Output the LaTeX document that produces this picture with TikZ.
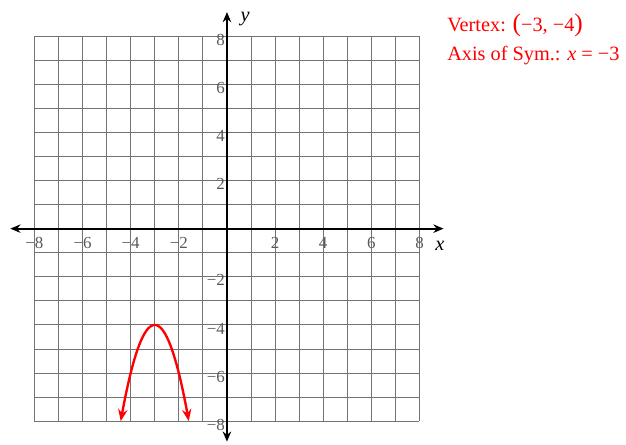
\documentclass[tikz,border=0pt]{standalone}
\usepackage{fontspec}
\setmainfont{Liberation Serif}
\usetikzlibrary{arrows.meta}
\begin{document}
\begin{tikzpicture}[x=0.5cm,y=0.5cm,>={Stealth[length=6pt,width=5pt]}]
\useasboundingbox (-9.43,-8.96) rectangle (16.58,9.5);
\tikzset{ticklabel/.style={text=black!65,font=\fontsize{10}{12}\selectfont,inner sep=1pt}}
% grid
\foreach \k in {-8,...,8} {
  \draw[black!55,line width=0.55pt] (\k,-8) -- (\k,8);
  \draw[black!55,line width=0.55pt] (-8,\k) -- (8,\k);
}
\draw[<->,line width=1.2pt] (-9,0) -- (9,0);
\draw[<->,line width=1.2pt] (0,-8.85) -- (0,9);

\foreach \n in {2,4,6,8} {
  \node[ticklabel] (xp\n) at (\n,-0.58) {\n};
  \node[ticklabel] (xm\n) at (-\n,-0.58) {−\n};
  \node[ticklabel,anchor=east] (yp\n) at (0,\n-0.15) {\n};
  \node[ticklabel,anchor=east] (ym\n) at (0,-\n-0.15) {−\n};
}
\node[font=\fontsize{12}{14}\selectfont\itshape] (xlab) at (8.85,-0.7) {x};
\node[font=\fontsize{12}{14}\selectfont\itshape] (ylab) at (0.75,8.7) {y};

\draw[red,{Stealth[length=7pt,width=5.5pt]}-{Stealth[length=7pt,width=5.5pt]},line width=1.4pt,domain={-3-sqrt(2)}:{-3+sqrt(2)},samples=60]
  plot (\x,{-2*(\x+3)^2-4});

\node[red,anchor=west,inner sep=0pt,font=\fontsize{12}{14}\selectfont] (vertex) at (9.14,8.44)
  {Vertex: {\fontsize{15}{15}\selectfont(}−3, −4{\fontsize{15}{15}\selectfont)}};
\node[red,anchor=west,inner sep=0pt,font=\fontsize{12}{14}\selectfont] (axis) at (9.14,7.19)
  {Axis of Sym.: \textit{x} = −3};
\end{tikzpicture}
\end{document}
